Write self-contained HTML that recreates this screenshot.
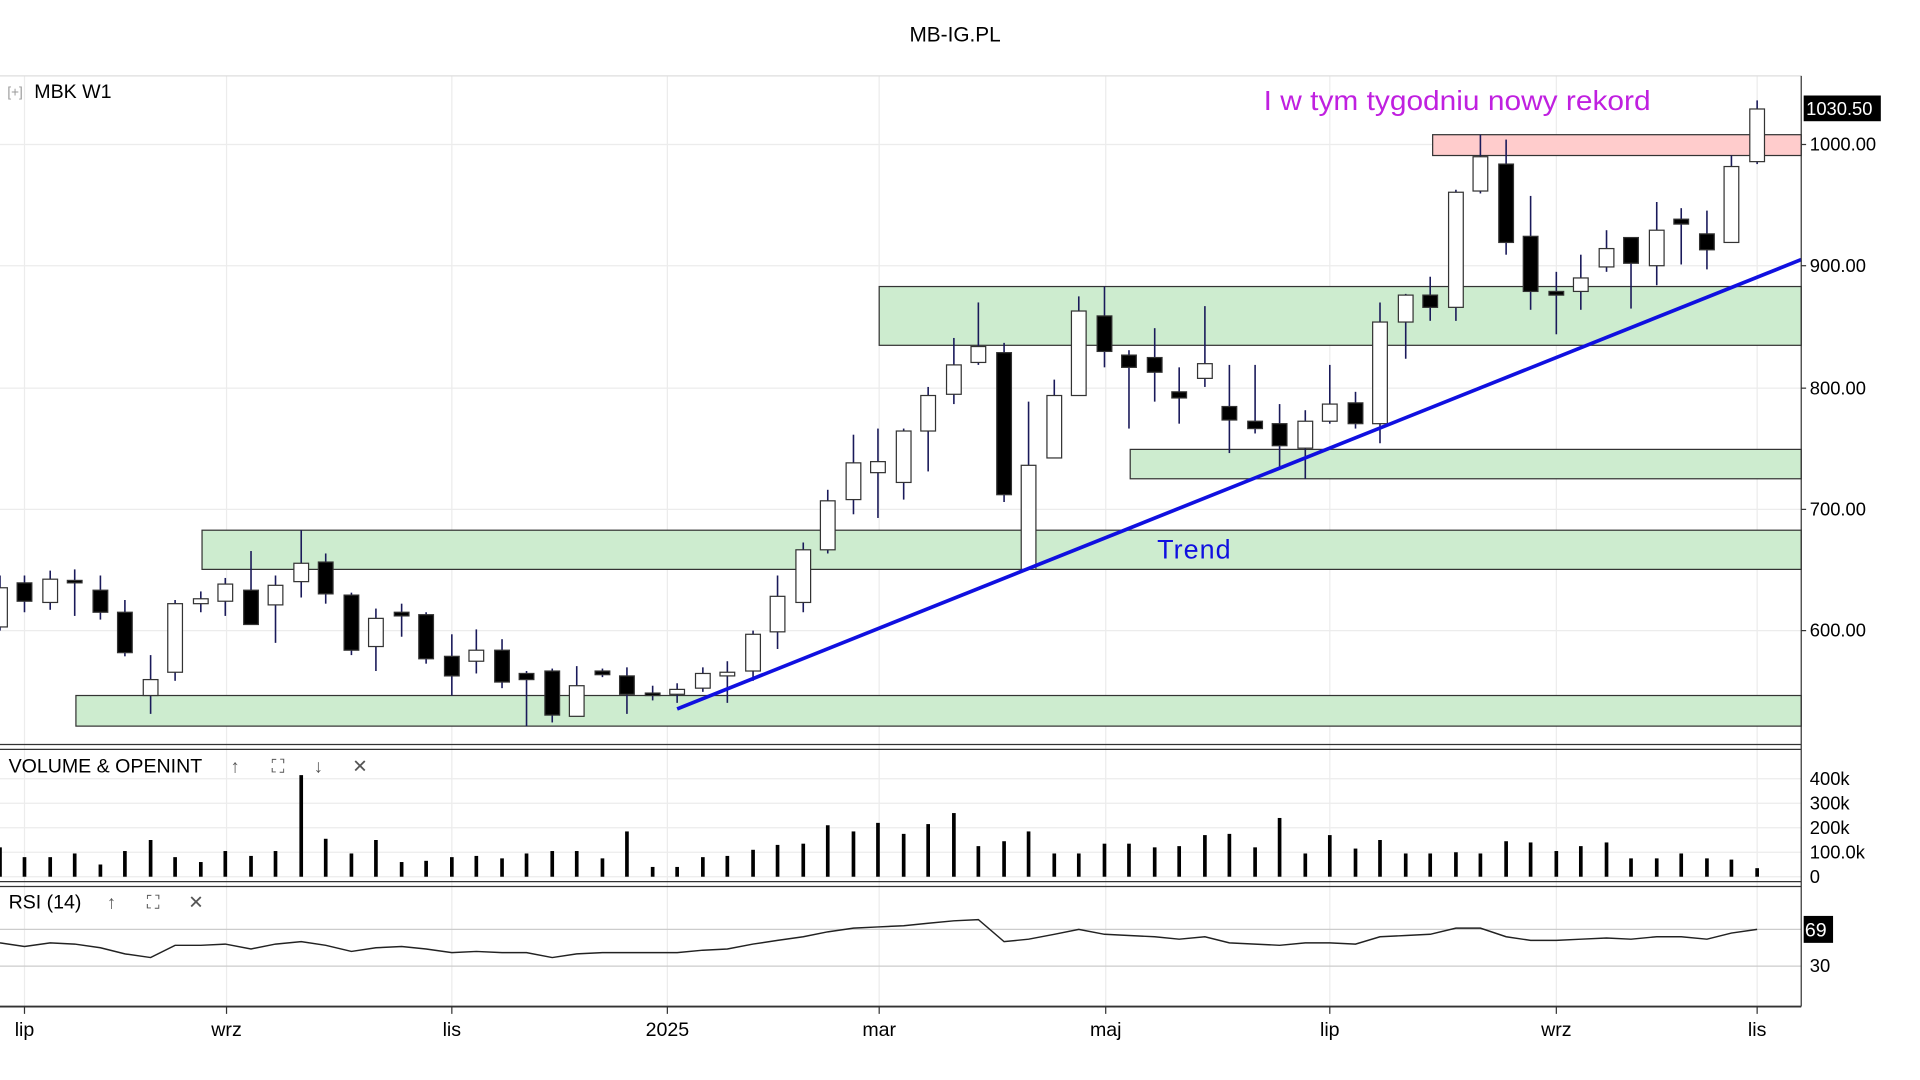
<!DOCTYPE html>
<html><head><meta charset="utf-8"><style>
html,body{margin:0;padding:0;background:#fff;width:1920px;height:1080px;overflow:hidden}
svg{display:block;font-family:"Liberation Sans",sans-serif}
</style></head><body>
<svg id="s" width="1920" height="1080" viewBox="0 0 1568 882" xmlns="http://www.w3.org/2000/svg">
<rect width="1568" height="882" fill="#fff"/>
<text x="780" y="34" font-size="17" text-anchor="middle" fill="#000">MB-IG.PL</text>
<g id="grid" stroke="#ececec" stroke-width="1"></g>
<rect x="62" y="568" width="1409" height="25" fill="#cdeccf" stroke="#333" stroke-width="1"/>
<rect x="165" y="433" width="1306" height="32" fill="#cdeccf" stroke="#333" stroke-width="1"/>
<rect x="718" y="234" width="753" height="48" fill="#cdeccf" stroke="#333" stroke-width="1"/>
<rect x="923" y="367" width="548" height="24" fill="#cdeccf" stroke="#333" stroke-width="1"/>
<rect x="1170" y="110" width="301" height="17" fill="#ffcccc" stroke="#333" stroke-width="1"/>
<g id="candles"></g>
<line x1="553" y1="579" x2="1471" y2="212" stroke="#1010e0" stroke-width="3"/>
<text x="945" y="456" font-size="22" fill="#1010e0" textLength="60">Trend</text>
<text x="1032" y="90" font-size="23" fill="#c020e0" textLength="316" lengthAdjust="spacingAndGlyphs">I w tym tygodniu nowy rekord</text>
<line x1="0" y1="62" x2="1471" y2="62" stroke="#ddd"/>
<line x1="1471" y1="62" x2="1471" y2="822" stroke="#333"/>
<line x1="0" y1="608" x2="1471" y2="608" stroke="#333"/>
<line x1="0" y1="612" x2="1471" y2="612" stroke="#333"/>
<line x1="0" y1="720" x2="1471" y2="720" stroke="#333"/>
<line x1="0" y1="724" x2="1471" y2="724" stroke="#333"/>
<line x1="0" y1="822" x2="1471" y2="822" stroke="#333" stroke-width="1.5"/>
<g font-size="15" fill="#000">
<text x="1478" y="123">1000.00</text><text x="1478" y="222">900.00</text><text x="1478" y="322">800.00</text>
<text x="1478" y="421">700.00</text><text x="1478" y="520">600.00</text>
<text x="1478" y="641">400k</text><text x="1478" y="661">300k</text><text x="1478" y="681">200k</text>
<text x="1478" y="701">100.0k</text><text x="1478" y="721">0</text>
<text x="1478" y="794">30</text>
</g>
<rect x="1473" y="78" width="63" height="21" fill="#000"/>
<text x="1475" y="94" font-size="15" fill="#fff">1030.50</text>
<rect x="1473" y="748" width="24" height="22" fill="#000"/>
<text x="1474" y="765" font-size="16" fill="#fff">69</text>
<g stroke="#333"><line x1="1471" y1="118" x2="1475" y2="118"/><line x1="1471" y1="217" x2="1475" y2="217"/><line x1="1471" y1="317" x2="1475" y2="317"/><line x1="1471" y1="416" x2="1475" y2="416"/><line x1="1471" y1="515" x2="1475" y2="515"/></g>
<text x="6" y="79" font-size="11" fill="#999">[+]</text>
<text x="28" y="80" font-size="16" fill="#000">MBK  W1</text>
<text x="7" y="631" font-size="16" fill="#000">VOLUME &amp; OPENINT</text>
<g font-size="15" fill="#555" text-anchor="middle"><text x="192" y="631">↑</text><text x="227" y="631">⛶</text><text x="260" y="631">↓</text><text x="294" y="631">✕</text>
<text x="91" y="742">↑</text><text x="125" y="742">⛶</text><text x="160" y="742">✕</text></g>
<text x="7" y="742" font-size="16" fill="#000">RSI (14)</text>
<g id="vol" stroke="#000" stroke-width="3"></g>
<polyline id="rsi" fill="none" stroke="#222" stroke-width="1.2"/>
<g font-size="16" fill="#000" text-anchor="middle">
<text x="20" y="846">lip</text><text x="185" y="846">wrz</text><text x="369" y="846">lis</text><text x="545" y="846">2025</text>
<text x="718" y="846">mar</text><text x="903" y="846">maj</text><text x="1086" y="846">lip</text><text x="1271" y="846">wrz</text><text x="1435" y="846">lis</text>
</g>
</svg>
<script>
var NS="http://www.w3.org/2000/svg";
function el(p,t,a){var e=document.createElementNS(NS,t);for(var k in a)e.setAttribute(k,a[k]);document.getElementById(p).appendChild(e);return e;}
[20,185,369,545,718,903,1086,1271,1435].forEach(function(x){el("grid","line",{x1:x,y1:62,x2:x,y2:822});el("s","line",{x1:x,y1:822,x2:x,y2:828,stroke:"#333"});});
[118,217,317,416,515,636,656,676,696,716,759,789].forEach(function(y){el("grid","line",{x1:0,y1:y,x2:1471,y2:y,stroke:y==789||y==759?"#ccc":"#ececec"});});
var c=[[0,480,512,470,515,0],[20,476,491,470,500,1],[41,473,492,466,498,0],[61,474,475,465,503,1],[82,482,500,470,506,1],[102,500,533,490,536,1],[123,555,568,535,583,0],[143,493,549,490,556,0],[164,489,493,483,500,0],[184,477,491,472,503,0],[205,482,510,450,510,1],[225,478,494,470,525,0],[246,460,475,433,488,0],[266,459,485,452,493,1],[287,486,531,484,535,1],[307,505,528,497,548,0],[328,500,503,493,520,1],[348,502,538,500,542,1],[369,536,552,518,568,1],[389,531,540,514,550,0],[410,531,557,522,562,1],[430,550,555,548,593,1],[451,548,584,546,590,1],[471,560,585,544,585,0],[492,548,551,546,553,1],[512,552,567,545,583,1],[533,566,568,560,572,1],[553,563,567,558,574,0],[574,550,562,545,565,0],[594,549,552,540,574,0],[615,518,548,515,556,0],[635,487,516,470,530,0],[656,449,492,443,500,0],[676,409,449,400,452,0],[697,378,408,355,420,0],[717,377,386,350,423,0],[738,352,394,350,408,0],[758,323,352,316,385,0],[779,298,322,276,330,0],[799,283,296,247,298,0],[820,288,404,280,410,1],[840,380,465,328,465,0],[861,323,374,310,374,0],[881,254,323,242,323,0],[902,258,287,234,300,1],[922,290,300,286,350,1],[943,292,304,268,328,1],[963,320,325,300,346,1],[984,297,309,250,316,0],[1004,332,343,298,370,1],[1025,344,350,298,354,1],[1045,346,364,330,383,1],[1066,344,366,335,391,0],[1086,330,344,298,346,0],[1107,329,346,320,350,1],[1127,263,346,247,362,0],[1148,241,263,240,293,0],[1168,241,251,226,262,1],[1189,157,251,155,262,0],[1209,128,156,110,158,0],[1230,134,198,114,208,1],[1250,193,238,160,253,1],[1271,238,241,222,273,1],[1291,227,238,208,253,0],[1312,203,218,188,222,0],[1332,194,215,194,252,1],[1353,188,217,165,233,0],[1373,179,183,170,216,1],[1394,191,204,172,220,1],[1414,136,198,127,198,0],[1435,89,132,82,134,0]];
c.forEach(function(d){
 el("candles","line",{x1:d[0],y1:d[3],x2:d[0],y2:d[4],stroke:"#1a1a5a","stroke-width":1.3});
 var h=Math.max(d[2]-d[1],2);
 el("candles","rect",{x:d[0]-6,y:d[1],width:12,height:h,fill:d[5]?"#000":"#fff",stroke:"#333","stroke-width":1});
});
var v=[692,700,700,697,706,695,686,700,704,695,699,695,633,685,697,686,704,703,700,699,701,697,695,695,701,679,708,708,700,699,694,690,689,674,679,672,681,673,664,691,687,679,697,697,689,689,692,691,682,681,692,668,697,682,693,686,697,697,696,697,687,688,695,691,688,701,701,697,701,702,709];
var r=[770,773,770,771,774,779,782,772,772,771,775,771,769,772,777,774,773,775,778,777,778,778,782,779,778,778,778,778,776,775,771,768,765,761,758,757,756,754,752,751,769,767,763,759,763,764,765,767,765,770,771,772,770,770,771,765,764,763,758,758,765,768,768,767,766,767,765,765,767,762,759];
var pts=[];
c.forEach(function(d,i){el("vol","line",{x1:d[0],y1:v[i],x2:d[0],y2:716});pts.push(d[0]+","+r[i]);});
document.getElementById("rsi").setAttribute("points",pts.join(" "));
</script>
</body></html>
